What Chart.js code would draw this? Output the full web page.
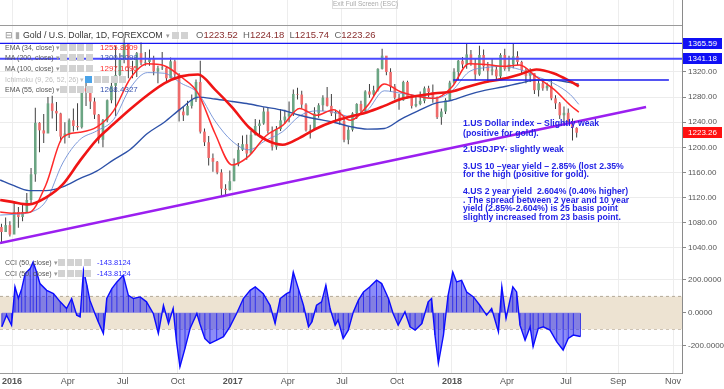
<!DOCTYPE html>
<html>
<head>
<meta charset="utf-8">
<script src="https://cdn.jsdelivr.net/npm/chart.js@4.4.1/dist/chart.umd.min.js"></script>
<style>
body{margin:0;background:#fff;font-family:"Liberation Sans",Arial,sans-serif;}
#wrap{position:relative;width:724px;height:389px;overflow:hidden;background:#fff;}
#priceBox{position:absolute;left:0;top:0;width:724px;height:254px;}
#cciBox{position:absolute;left:0;top:254px;width:724px;height:135px;}
.t{position:absolute;white-space:nowrap;}
.row{font-size:7px;line-height:9px;color:#555;}
.ico{display:inline-block;width:7px;height:7px;background:#d2d2d2;margin-right:1.5px;vertical-align:-1px;}
.note{position:absolute;left:463px;font-size:8.7px;line-height:10px;font-weight:bold;color:#2323e6;white-space:nowrap;}
.tag{position:absolute;left:683px;width:39px;height:11px;line-height:11px;font-size:8px;color:#fff;text-align:center;}
</style>
</head>
<body>
<div id="wrap">
  <div id="priceBox"><canvas id="priceCanvas"></canvas></div>
  <div id="cciBox"><canvas id="cciCanvas"></canvas></div>
</div>
<script>
// x axis is counted in trading weeks, week 0 = first week of Jan 2016
var xMin = -2.84;
var xMax = 158.4;
var tickWeeks  = [0, 13.2, 26.2, 39.2, 52.2, 65.2, 78, 91, 104, 117, 131, 143.3, 156.3];
var tickLabels = ['2016','Apr','Jul','Oct','2017','Apr','Jul','Oct','2018','Apr','Jul','Sep','Nov'];
var priceTicks = [1040, 1080, 1120, 1160, 1200, 1240, 1280, 1320];
var cciTicks = [-200, 0, 200];

// weekly candles, first candle = week -3 (mid Dec 2015)
var firstWeek = -3;
var opens = [1073,1065,1076,1061,1097,1089,1097,1116,1157,1239,1227,1222,1270,1258,1254,1217,1222,1243,1234,1232,1294,1289,1273,1252,1212,1243,1275,1298,1315,1339,1366,1327,1323,1350,1335,1336,1341,1321,1326,1327,1310,1337,1316,1257,1251,1266,1276,1304,1225,1208,1183,1177,1160,1134,1132,
  1146,1173,1196,1205,1190,1220,1234,1238,1257,1226,1201,1229,1243,1249,1254,1285,1284,1268,1227,1228,1254,1267,1279,1266,1254,1256,1242,1212,1228,1254,1269,1258,1289,1284,1291,1325,1346,1320,1297,1279,1275,1304,1280,1266,1269,1274,1294,1288,1280,1248,1257,1275,
  1303,1320,1338,1332,1348,1333,1316,1347,1329,1322,1324,1313,1347,1325,1332,1345,1336,1323,1314,1318,1291,1302,1294,1298,1278,1270,1251,1255,1241,1231];
var highs = [1078,1088,1082,1113,1105,1111,1127,1167,1263,1240,1253,1280,1282,1272,1255,1240,1246,1262,1270,1297,1304,1287,1279,1253,1245,1276,1304,1362,1350,1375,1357,1338,1352,1367,1352,1356,1346,1330,1352,1328,1343,1340,1318,1265,1274,1284,1308,1338,1230,1218,1190,1178,1165,1141,1163,
  1182,1207,1219,1220,1226,1245,1244,1264,1264,1233,1234,1261,1260,1273,1292,1295,1290,1270,1236,1264,1270,1283,1296,1285,1260,1260,1245,1233,1256,1270,1274,1291,1301,1298,1326,1357,1340,1326,1301,1285,1306,1306,1284,1283,1289,1297,1298,1300,1281,1262,1278,1306,
  1326,1339,1344,1366,1355,1341,1362,1356,1336,1341,1329,1350,1357,1346,1366,1353,1338,1326,1326,1318,1307,1307,1303,1309,1283,1272,1265,1262,1246,1232];
var lows = [1046,1066,1058,1062,1072,1082,1096,1111,1145,1192,1207,1228,1246,1226,1208,1206,1215,1225,1227,1230,1266,1261,1245,1206,1200,1240,1270,1250,1310,1334,1310,1310,1312,1331,1330,1330,1315,1302,1323,1305,1310,1310,1241,1242,1251,1262,1272,1222,1202,1171,1161,1157,1122,1124,1131,
  1146,1170,1194,1180,1190,1219,1216,1236,1222,1195,1196,1226,1237,1240,1250,1276,1262,1225,1214,1227,1247,1258,1265,1250,1240,1236,1208,1205,1225,1245,1253,1256,1279,1281,1289,1324,1315,1288,1276,1260,1274,1278,1262,1264,1267,1270,1280,1271,1245,1236,1253,1274,
  1301,1307,1326,1325,1330,1307,1314,1322,1303,1315,1309,1308,1322,1321,1326,1331,1316,1302,1304,1285,1281,1290,1290,1275,1261,1245,1237,1237,1211,1215.74];
var closes = [1065,1076,1061,1097,1089,1097,1116,1157,1239,1227,1222,1270,1258,1254,1217,1222,1243,1234,1232,1294,1289,1273,1252,1212,1243,1275,1298,1315,1339,1366,1327,1323,1350,1335,1336,1341,1321,1326,1327,1310,1337,1316,1257,1251,1266,1276,1304,1225,1208,1183,1177,1160,1134,1132,1146,
  1173,1196,1205,1190,1220,1234,1238,1257,1226,1201,1229,1243,1249,1254,1285,1284,1268,1227,1228,1254,1267,1279,1266,1254,1256,1242,1212,1228,1254,1269,1258,1289,1284,1291,1325,1346,1320,1297,1279,1275,1304,1280,1266,1269,1274,1294,1288,1280,1248,1257,1275,1303,
  1320,1338,1332,1348,1333,1316,1347,1329,1322,1324,1313,1347,1325,1332,1345,1336,1323,1314,1318,1291,1302,1294,1298,1278,1270,1251,1255,1241,1231,1223.26];

// moving averages at these weeks
var maWeeks = [-2.8,0,4,8,12,16,20,24,28,32,36,40,44,48,52,56,60,64,68,72,76,80,84,88,92,96,100,104,108,112,116,120,124,128,132,134];
var ema34 = [1097,1095,1096,1140,1216,1224,1232,1258,1310,1333,1330,1312,1286,1222,1172,1186,1218,1235,1262,1251,1260,1243,1266,1301,1288,1281,1278,1296,1333,1332,1329,1331,1312,1293,1267,1255.9];
var ma200 = [1148,1140,1131,1131,1137,1150,1162,1180,1197,1222,1240,1262,1280,1277,1273,1269,1264,1259,1251,1245,1240,1233,1229,1230,1245,1258,1270,1275,1284,1291,1296,1302,1307,1307,1303,1300.5];
var ma100 = [1116,1113,1109,1120,1141,1178,1212,1237,1261,1283,1302,1313,1316,1292,1264,1232,1212,1204,1215,1230,1241,1249,1256,1266,1277,1282,1286,1289,1297,1304,1309,1316,1324,1318,1305,1297.2];
var ema55 = [1092,1093,1096,1114,1175,1212,1226,1244,1295,1319,1318,1302,1286,1242,1210,1196,1211,1225,1250,1258,1256,1249,1259,1290,1286,1282,1278,1290,1320,1327,1329,1324,1313,1302,1284,1268.4];

// drawn lines: support trendline and horizontal levels
var trendWeeks = [-2.84, 149.9];
var trendPrices = [1047.5, 1264.2];
var levelValues = [1365.59, 1341.18, 1307.2];
var levelFrom = [-2.84, -2.84, 104.3];
var levelTo = [158.4, 158.4, 155.3];
var lastPrice = 1223.26;

// CCI (50)
var cciWeeks = [-2.4,-1.3,-0.1,0.7,1.5,2.3,3.1,4.3,5.0,5.8,6.6,8.2,9.8,11.4,12.9,14.1,15.3,16.1,16.9,17.7,
  18.4,19.6,20.4,21.6,22.4,23.6,24.8,26.3,27.5,28.7,30.3,31.8,33.4,34.6,35.8,37.0,38.1,38.9,39.7,40.9,
  42.1,43.7,44.4,45.6,46.8,48.4,50.0,51.5,53.1,54.7,56.3,57.5,59.4,61.0,62.2,63.4,64.9,65.7,66.5,67.7,
  68.9,70.1,70.9,72.0,73.2,74.2,75.2,76.4,77.1,78.3,79.5,80.7,81.9,83.1,84.6,86.2,87.4,89.0,90.1,91.3,
  92.9,94.1,95.3,96.9,98.4,99.2,100.0,100.8,102.0,103.1,104.2,105.1,106.3,107.5,109.1,110.6,112.2,113.4,115.0,115.8,
  116.8,118.4,119.3,120.1,121.3,122.5,123.2,124.4,125.6,127.2,128.8,130.3,131.5,132.7,134.4];
var cciValues = [-85,-14,-75,158,87,147,238,269,309,248,178,137,117,67,26,87,-14,-24,259,168,
  77,-4,-55,-125,87,147,188,228,107,87,97,67,-4,-125,46,-65,26,-176,-327,-216,
  -95,-4,-65,-156,-186,-166,-145,-85,-4,87,137,158,117,46,-65,87,117,127,248,147,
  46,-85,-55,46,67,168,26,-75,-44,-156,-105,6,77,127,158,198,178,87,-4,-75,
  6,-85,-105,-65,67,87,-135,-307,-135,107,248,188,198,127,97,46,-14,26,-115,158,
  -34,158,127,-75,-166,-85,-206,-95,-85,-105,-176,-226,-156,-135,-143.8];

var fontFam = '"Liberation Sans", Arial, sans-serif';
var upColor = '#6ba583';
var downColor = '#ef6a6a';

function toPoints(xs, ys){
	var pts = [];
	for(var i=0; i<xs.length; i++){
		pts.push({x: xs[i], y: ys[i]});
	}
	return pts;
}

// candle bodies + wicks as floating bars
function makeCandleData(){
	var wicks = [], bodies = [], colors = [];
	for(var i=0; i<closes.length; i++){
		var x = firstWeek + i + 0.5;
		wicks.push({x: x, y: [lows[i], highs[i]]});
		bodies.push({x: x, y: [Math.min(opens[i], closes[i]), Math.max(opens[i], closes[i])]});
		colors.push(closes[i] >= opens[i] ? upColor : downColor);
	}
	return {wicks: wicks, bodies: bodies, colors: colors};
}

function lineSet(data, color, width){
	return {type:'line', data: data, borderColor: color, borderWidth: width, pointRadius: 0,
		fill: false, cubicInterpolationMode: 'monotone', borderJoinStyle: 'round'};
}

function weekTicks(scale){
	scale.ticks = tickWeeks.map(function(v){ return {value: v}; });
}

function makePriceChart(){
	var c = makeCandleData();
	var datasets = [
		lineSet(toPoints(trendWeeks, trendPrices), '#9b1ff0', 2.5),
		lineSet(toPoints([levelFrom[0], levelTo[0]], [levelValues[0], levelValues[0]]), '#1616f2', 1.4),
		lineSet(toPoints([levelFrom[1], levelTo[1]], [levelValues[1], levelValues[1]]), '#4a4aff', 2),
		lineSet(toPoints([levelFrom[2], levelTo[2]], [levelValues[2], levelValues[2]]), '#1a1aee', 1.3),
		lineSet(toPoints(maWeeks, ma100), '#f01515', 2.6),
		lineSet(toPoints(maWeeks, ema34), '#ff2a2a', 1.5),
		lineSet(toPoints(maWeeks, ma200), '#2d51a8', 1.4),
		lineSet(toPoints(maWeeks, ema55), '#6f8fd6', 0.9),
		{type:'bar', data: c.bodies, backgroundColor: c.colors, borderWidth: 0, grouped: false, maxBarThickness: 2.6},
		{type:'bar', data: c.wicks, backgroundColor: '#2a2a2a', borderWidth: 0, grouped: false, maxBarThickness: 0.9}
	];
	return new Chart(document.getElementById('priceCanvas'), {
		type: 'line',
		data: {datasets: datasets},
		options: {
			animation: false, responsive: true, maintainAspectRatio: false,
			layout: {padding: 0},
			plugins: {legend: {display: false}, tooltip: {enabled: false}},
			scales: {
				x: {type: 'linear', min: xMin, max: xMax, offset: false,
					afterBuildTicks: weekTicks,
					afterFit: function(s){ s.height = 0; s.paddingLeft = 0; s.paddingRight = 0; },
					ticks: {display: false},
					grid: {color: '#ededed', drawTicks: false, offset: false},
					border: {display: true, color: '#9a9a9a'}},
				y: {position: 'right', min: 1030, max: 1434.7,
					afterBuildTicks: function(s){ s.ticks = priceTicks.map(function(v){ return {value: v}; }); },
					afterFit: function(s){ s.width = 42; s.paddingTop = 0; s.paddingBottom = 0; },
					ticks: {color: '#555', padding: 2, font: {family: fontFam, size: 8},
						callback: function(v){ return Number(v).toFixed(2); }},
					grid: {color: '#ececec', tickLength: 4, tickColor: '#888'},
					border: {display: true, color: '#8a8a8a'}}
			}
		}
	});
}

function makeCciChart(){
	var pts = toPoints(cciWeeks, cciValues);
	var datasets = [
		{type:'line', data: pts, borderColor: '#0c0cff', borderWidth: 1.4, pointRadius: 0,
			fill: 'origin', backgroundColor: 'rgba(35,35,240,0.52)', tension: 0},
		{type:'bar', data: pts, backgroundColor: '#1a1ae8', borderWidth: 0, grouped: false, maxBarThickness: 0.8},
		{type:'line', data: toPoints([xMin, xMax], [100, 100]), borderColor: '#b5aa98', borderWidth: 1,
			borderDash: [3, 3], pointRadius: 0, fill: '+1', backgroundColor: '#ede3d2'},
		{type:'line', data: toPoints([xMin, xMax], [-100, -100]), borderColor: '#b5aa98', borderWidth: 1,
			borderDash: [3, 3], pointRadius: 0, fill: false}
	];
	return new Chart(document.getElementById('cciCanvas'), {
		type: 'line',
		data: {datasets: datasets},
		options: {
			animation: false, responsive: true, maintainAspectRatio: false,
			layout: {padding: 0},
			plugins: {legend: {display: false}, tooltip: {enabled: false}},
			scales: {
				x: {type: 'linear', min: xMin, max: xMax, offset: false,
					afterBuildTicks: weekTicks,
					afterFit: function(s){ s.height = 16; s.paddingLeft = 0; s.paddingRight = 0; },
					ticks: {color: '#555', padding: 3, autoSkip: false, maxRotation: 0,
						font: function(ctx){ return {family: fontFam, size: 9, weight: /^\d{4}$/.test(tickLabels[ctx.index]) ? 'bold' : 'normal'}; },
						callback: function(v, i){ return tickLabels[i]; }},
					grid: {color: '#ededed', drawTicks: false, offset: false},
					border: {display: true, color: '#9a9a9a'}},
				y: {position: 'right', min: -365.5, max: 357.6,
					afterBuildTicks: function(s){ s.ticks = cciTicks.map(function(v){ return {value: v}; }); },
					afterFit: function(s){ s.width = 42; s.paddingTop = 0; s.paddingBottom = 0; },
					ticks: {color: '#555', padding: 2, font: {family: fontFam, size: 8},
						callback: function(v){ return Number(v).toFixed(4); }},
					grid: {color: '#ececec', tickLength: 4, tickColor: '#888'},
					border: {display: true, color: '#8a8a8a'}}
			}
		}
	});
}

function addText(html, left, top, cls, style){
	var d = document.createElement('div');
	d.className = 't ' + (cls || '');
	d.style.left = left + 'px';
	d.style.top = top + 'px';
	if(style){ d.setAttribute('style', d.getAttribute('style') + ';' + style); }
	d.innerHTML = html;
	document.getElementById('wrap').appendChild(d);
	return d;
}

function icons(n){
	var s = '';
	for(var i=0; i<n; i++){ s += '<span class="ico"></span>'; }
	return s;
}

function makeLabels(priceChart){
	// panel separator under the hidden upper pane
	addText('', 0, 25, '', 'width:682px;height:0;border-top:1px solid #9a9a9a');
	addText('Exit Full Screen (ESC)', 332, -2, '', 'width:64px;height:9px;border:1px solid #ddd;background:#fff;font-size:6.5px;line-height:10px;color:#aaa;text-align:center');

	addText('<span style="color:#888">&#8863;</span> <span style="color:#aaa">&#9646;</span> Gold / U.S. Dollar, 1D, FOREXCOM',
		5, 29, '', 'font-size:8.8px;line-height:12px;color:#333');
	addText('<span style="color:#999;font-size:7px">&#9662;</span> ' + icons(2), 166, 29, '', 'font-size:8.8px;line-height:12px');
	var ohlc = ['O','1223.52','H','1224.18','L','1215.74','C','1223.26'];
	var h = '';
	for(var i=0; i<ohlc.length; i+=2){
		h += '<span style="color:#666">' + ohlc[i] + '</span><span style="color:#8a2f2f">' + ohlc[i+1] + '</span>&nbsp;&nbsp;';
	}
	addText(h, 196, 29, '', 'font-size:9.5px;line-height:12px');

	var rows = [
		['EMA (34, close)', '1255.8609', '#ff3030', 47],
		['MA (200, close)', '1300.5098', '#3a55b0', 57.5],
		['MA (100, close)', '1297.1695', '#ff3030', 68.5],
		['EMA (55, close)', '1268.4327', '#3a55b0', 89.5]
	];
	for(var r=0; r<rows.length; r++){
		addText(rows[r][0] + ' <span style="color:#999">&#9662;</span>', 5, rows[r][3] - 4.5, 'row');
		addText(icons(4), 60, rows[r][3] - 4.5, 'row');
		addText(rows[r][1], 100, rows[r][3] - 4.5, 'row', 'color:' + rows[r][2] + ';font-size:8px');
	}
	addText('Ichimoku (9, 26, 52, 26) &#9662;', 5, 74.5, 'row', 'color:#bdbdbd');
	addText('<span class="ico" style="background:#4aa3e8"></span>' + icons(4), 85, 74.5, 'row');

	var cciRows = [262, 273];
	for(var k=0; k<cciRows.length; k++){
		addText('CCI (50, close) <span style="color:#999">&#9662;</span>', 5, cciRows[k] - 4.5, 'row');
		addText(icons(4), 58, cciRows[k] - 4.5, 'row');
		addText('-143.8124', 97, cciRows[k] - 4.5, 'row', 'color:#2a2aff;font-size:7.5px');
	}

	// price tags on the right axis, placed with the chart's own y scale
	var y = priceChart.scales.y;
	var tags = [[levelValues[0], '#1010f5'], [levelValues[1], '#1010f5'], [lastPrice, '#ff1010']];
	for(var j=0; j<tags.length; j++){
		var d = addText(tags[j][0].toFixed(2), 0, 0, 'tag');
		d.style.left = '683px';
		d.style.top = (y.getPixelForValue(tags[j][0]) - 5.5) + 'px';
		d.style.background = tags[j][1];
	}

	var notes = [
		['1.US Dollar index \u2013 Slightly weak', 123.3],
		['(positive for gold).', 132.7],
		['2.USDJPY- slightly weak', 149],
		['3.US 10 \u2013year yield \u2013 2.85% (lost 2.35%', 165.7],
		['for the high (positive for gold).', 174.3],
		['4.US 2 year yield&nbsp; 2.604% (0.40% higher)', 190.7],
		['. The spread between 2 year and 10 year', 199.5],
		['yield (2.85%-2.604%) is 25 basis point', 208.3],
		['slightly increased from 23 basis point.', 216.9]
	];
	for(var n=0; n<notes.length; n++){
		var e = document.createElement('div');
		e.className = 'note';
		e.style.top = (notes[n][1] - 5) + 'px';
		e.innerHTML = notes[n][0];
		document.getElementById('wrap').appendChild(e);
	}
}

var priceChart = makePriceChart();
var cciChart = makeCciChart();
makeLabels(priceChart);
</script>
</body>
</html>
